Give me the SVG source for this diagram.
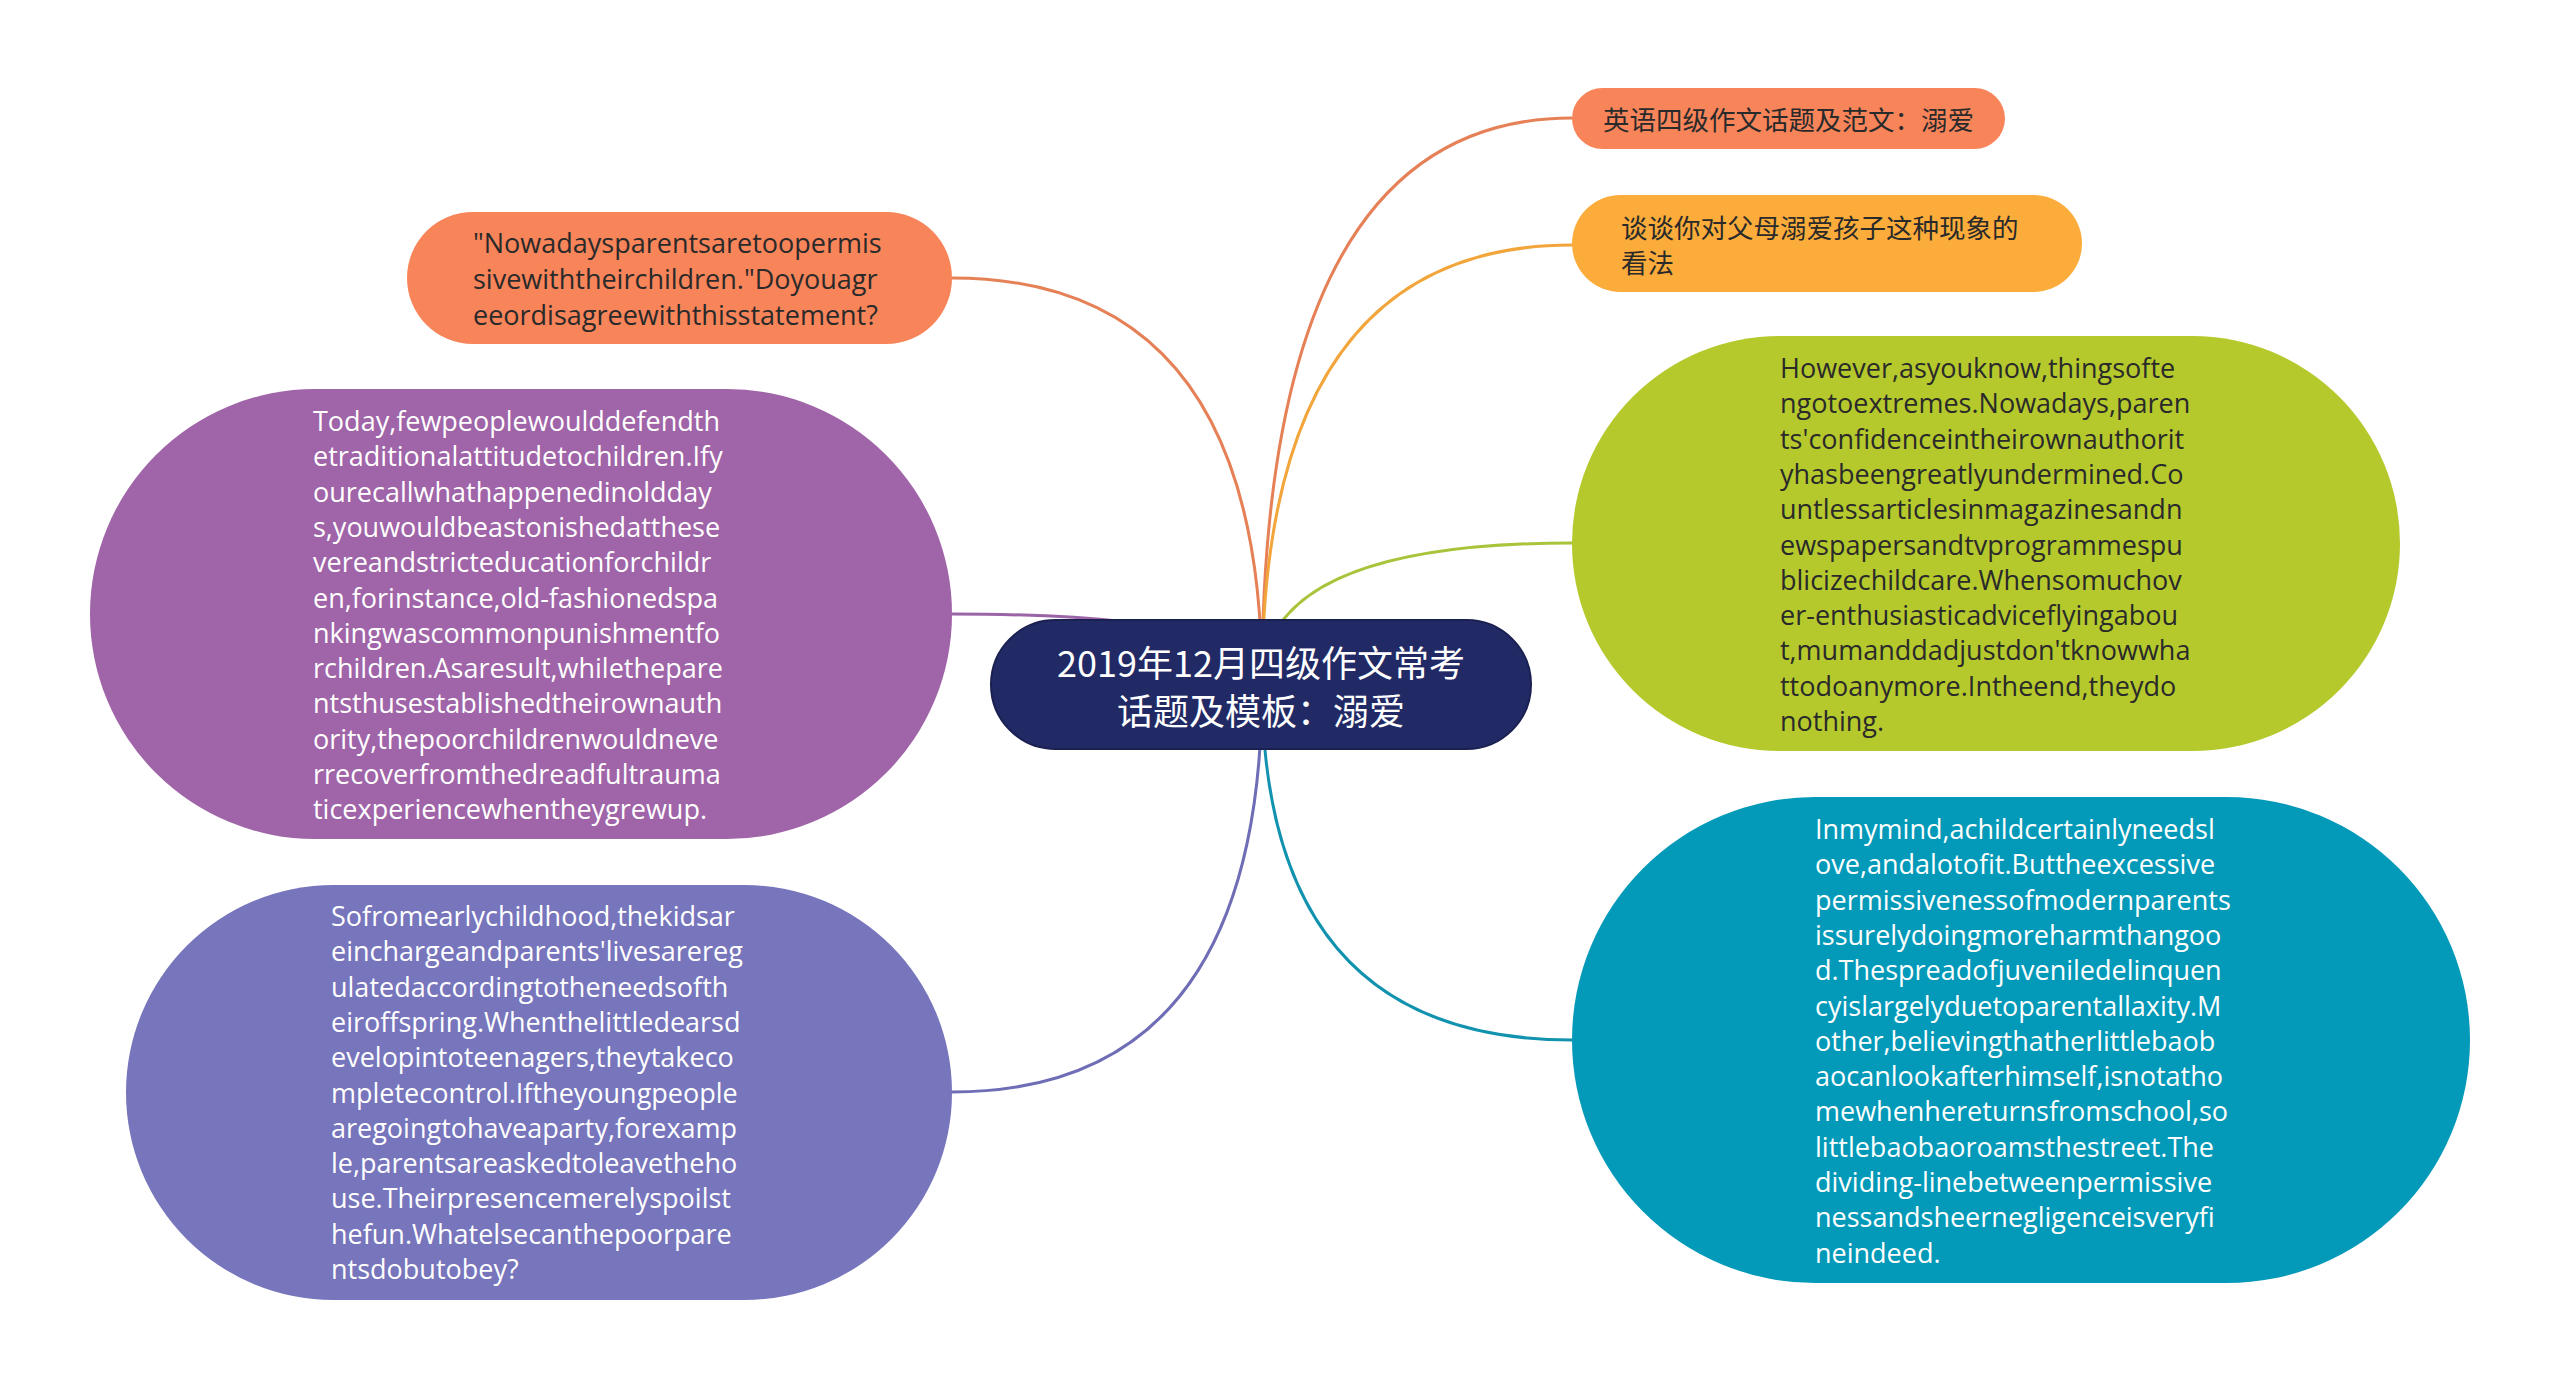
<svg xmlns="http://www.w3.org/2000/svg" width="2560" height="1389" viewBox="0 0 2560 1389">
<style>
.c{fill:none;stroke-width:3;stroke-linecap:round}
.t{font-family:"Open Sans","Noto Sans CJK SC",sans-serif;font-size:27px;dominant-baseline:central}
.zh{font-family:"Noto Sans CJK SC","Open Sans",sans-serif;font-size:26.5px;dominant-baseline:central}
.dark{fill:#2a2a2a}
.light{fill:#ffffff}
</style>
<rect width="2560" height="1389" fill="#ffffff"/>
<g id="connectors">
<path class="c" stroke="#e58057" d="M1262 684 Q1262 278 952 278"/>
<path class="c" stroke="#9b64a6" d="M1262 684 Q1262 614 952 614"/>
<path class="c" stroke="#6f6db5" d="M1262 684 Q1262 1092 952 1092"/>
<path class="c" stroke="#e58057" d="M1262 684 Q1262 118 1572 118"/>
<path class="c" stroke="#f2a53a" d="M1262 684 Q1262 245 1572 245"/>
<path class="c" stroke="#a9c43a" d="M1262 684 Q1262 543 1572 543"/>
<path class="c" stroke="#1192ae" d="M1262 684 Q1262 1040 1572 1040"/>
</g>
<g id="center">
<rect x="991" y="620" width="540" height="129" rx="64.5" fill="#222a66" stroke="#1a2050" stroke-width="2"/>
<text class="zh light" style="font-size:36px" x="1261" y="661" text-anchor="middle">2019年12月四级作文常考</text>
<text class="zh light" style="font-size:36px" x="1261" y="709" text-anchor="middle">话题及模板：溺爱</text>
</g>
<g id="node-question">
<rect x="407" y="212" width="545" height="132" rx="66" fill="#f8845a"/>
<text class="t dark"><tspan x="473" y="242">"Nowadaysparentsaretoopermis</tspan><tspan x="473" y="278">sivewiththeirchildren."Doyouagr</tspan><tspan x="473" y="314">eeordisagreewiththisstatement?</tspan></text>
</g>
<g id="node-today">
<rect x="90" y="389" width="862" height="450" rx="225" fill="#a064a8"/>
<text class="t light"><tspan x="313" y="420">Today,fewpeoplewoulddefendth</tspan><tspan x="313" y="455.3">etraditionalattitudetochildren.Ify</tspan><tspan x="313" y="490.6">ourecallwhathappenedinoldday</tspan><tspan x="313" y="525.9">s,youwouldbeastonishedatthese</tspan><tspan x="313" y="561.2">vereandstricteducationforchildr</tspan><tspan x="313" y="596.5">en,forinstance,old-fashionedspa</tspan><tspan x="313" y="631.8">nkingwascommonpunishmentfo</tspan><tspan x="313" y="667.1">rchildren.Asaresult,whilethepare</tspan><tspan x="313" y="702.4">ntsthusestablishedtheirownauth</tspan><tspan x="313" y="737.7">ority,thepoorchildrenwouldneve</tspan><tspan x="313" y="773">rrecoverfromthedreadfultrauma</tspan><tspan x="313" y="808.3">ticexperiencewhentheygrewup.</tspan></text>
</g>
<g id="node-sofrom">
<rect x="126" y="885" width="826" height="415" rx="207.5" fill="#7775bc"/>
<text class="t light"><tspan x="331" y="915">Sofromearlychildhood,thekidsar</tspan><tspan x="331" y="950.3">einchargeandparents'livesarereg</tspan><tspan x="331" y="985.6">ulatedaccordingtotheneedsofth</tspan><tspan x="331" y="1020.9">eiroffspring.Whenthelittledearsd</tspan><tspan x="331" y="1056.2">evelopintoteenagers,theytakeco</tspan><tspan x="331" y="1091.5">mpletecontrol.Iftheyoungpeople</tspan><tspan x="331" y="1126.8">aregoingtohaveaparty,forexamp</tspan><tspan x="331" y="1162.1">le,parentsareaskedtoleavetheho</tspan><tspan x="331" y="1197.4">use.Theirpresencemerelyspoilst</tspan><tspan x="331" y="1232.7">hefun.Whatelsecanthepoorpare</tspan><tspan x="331" y="1268">ntsdobutobey?</tspan></text>
</g>
<g id="node-title">
<rect x="1572" y="88" width="433" height="61" rx="30.5" fill="#f8845a"/>
<text class="zh dark" x="1603" y="118.5">英语四级作文话题及范文：溺爱</text>
</g>
<g id="node-opinion">
<rect x="1572" y="195" width="510" height="97" rx="48.5" fill="#fcac3a"/>
<text class="zh dark"><tspan x="1621" y="226">谈谈你对父母溺爱孩子这种现象的</tspan><tspan x="1621" y="261">看法</tspan></text>
</g>
<g id="node-however">
<rect x="1572" y="336" width="828" height="415" rx="207.5" fill="#b5c92d"/>
<text class="t dark"><tspan x="1780" y="367">However,asyouknow,thingsofte</tspan><tspan x="1780" y="402.3">ngotoextremes.Nowadays,paren</tspan><tspan x="1780" y="437.6">ts'confidenceintheirownauthorit</tspan><tspan x="1780" y="472.9">yhasbeengreatlyundermined.Co</tspan><tspan x="1780" y="508.2">untlessarticlesinmagazinesandn</tspan><tspan x="1780" y="543.5">ewspapersandtvprogrammespu</tspan><tspan x="1780" y="578.8">blicizechildcare.Whensomuchov</tspan><tspan x="1780" y="614.1">er-enthusiasticadviceflyingabou</tspan><tspan x="1780" y="649.4">t,mumanddadjustdon'tknowwha</tspan><tspan x="1780" y="684.7">ttodoanymore.Intheend,theydo</tspan><tspan x="1780" y="720">nothing.</tspan></text>
</g>
<g id="node-inmymind">
<rect x="1572" y="797" width="898" height="486" rx="243" fill="#0399b8"/>
<text class="t light"><tspan x="1815" y="828">Inmymind,achildcertainlyneedsl</tspan><tspan x="1815" y="863.3">ove,andalotofit.Buttheexcessive</tspan><tspan x="1815" y="898.6">permissivenessofmodernparents</tspan><tspan x="1815" y="933.9">issurelydoingmoreharmthangoo</tspan><tspan x="1815" y="969.2">d.Thespreadofjuveniledelinquen</tspan><tspan x="1815" y="1004.5">cyislargelyduetoparentallaxity.M</tspan><tspan x="1815" y="1039.8">other,believingthatherlittlebaob</tspan><tspan x="1815" y="1075.1">aocanlookafterhimself,isnotatho</tspan><tspan x="1815" y="1110.4">mewhenhereturnsfromschool,so</tspan><tspan x="1815" y="1145.7">littlebaobaoroamsthestreet.The</tspan><tspan x="1815" y="1181">dividing-linebetweenpermissive</tspan><tspan x="1815" y="1216.3">nessandsheernegligenceisveryfi</tspan><tspan x="1815" y="1251.6">neindeed.</tspan></text>
</g>
</svg>
